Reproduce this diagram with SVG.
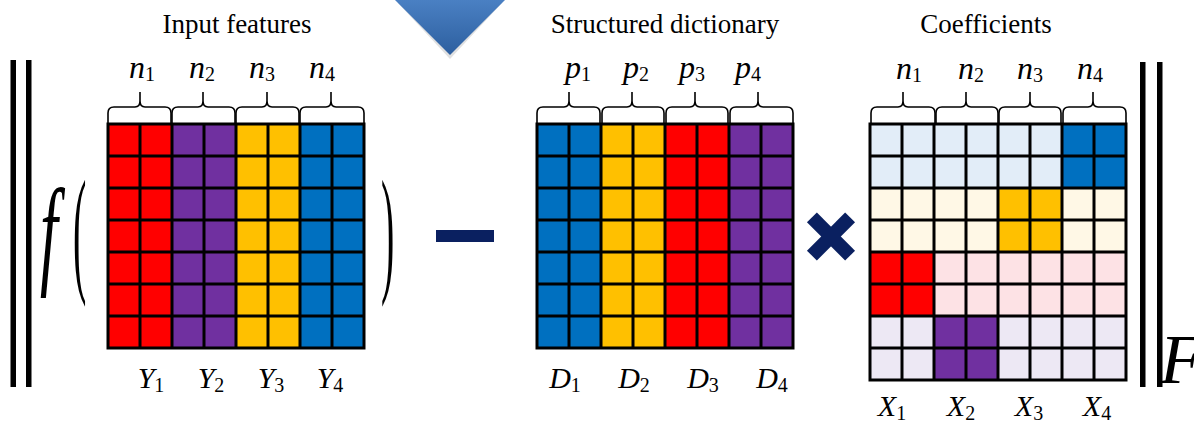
<svg xmlns="http://www.w3.org/2000/svg" width="1194" height="423" viewBox="0 0 1194 423">
<defs>
<linearGradient id="ag" x1="0" y1="0" x2="0" y2="1">
<stop offset="0" stop-color="#4a80c3"/>
<stop offset="1" stop-color="#2d5f9f"/>
</linearGradient>
</defs>
<rect width="1194" height="423" fill="#fff"/>
<text font-family="Liberation Serif" font-size="27" text-anchor="middle" x="237" y="33">Input features</text>
<text font-family="Liberation Serif" font-size="27" text-anchor="middle" x="665" y="33">Structured dictionary</text>
<text font-family="Liberation Serif" font-size="27" text-anchor="middle" x="986" y="33">Coefficients</text>

<g id="arrow">
<polygon points="398,3 502,3 450,59" fill="#000" opacity="0.12"/>
<polygon points="395,0 505,0 450,55" fill="url(#ag)"/>
</g>

<g id="norm-left" fill="#000">
<rect x="10.5" y="60" width="5.5" height="327"/>
<rect x="26" y="60" width="5.5" height="327"/>
<text font-family="Liberation Serif" font-style="italic" font-size="64" transform="scale(1,1.9)" x="40" y="143">f</text>
<text font-family="Liberation Serif" font-size="40" transform="scale(1,3.49)" x="73" y="79.5">(</text>
<text font-family="Liberation Serif" font-size="40" transform="scale(1,3.49)" x="381" y="79.5">)</text>
</g>

<g id="input-features">
<g font-family="Liberation Serif" font-style="italic" font-size="32" text-anchor="middle">
<text x="142" y="78">n<tspan font-style="normal" font-size="20" dy="3">1</tspan></text>
<text x="202" y="78">n<tspan font-style="normal" font-size="20" dy="3">2</tspan></text>
<text x="262" y="78">n<tspan font-style="normal" font-size="20" dy="3">3</tspan></text>
<text x="322" y="78">n<tspan font-style="normal" font-size="20" dy="3">4</tspan></text>
</g>
<g fill="none" stroke="#000" stroke-width="1.6" stroke-linejoin="round">
<path d="M108,123V113Q108,107 114,107H135Q140,107 140,101V92M140,101Q140,107 145,107H165Q171,107 171,113V123"/>
<path d="M172,123V113Q172,107 178,107H198Q203,107 203,101V92M203,101Q203,107 208,107H229Q235,107 235,113V123"/>
<path d="M236,123V113Q236,107 242,107H262Q267,107 267,101V92M267,101Q267,107 272,107H293Q299,107 299,113V123"/>
<path d="M300,123V113Q300,107 306,107H326Q331,107 331,101V92M331,101Q331,107 336,107H358Q364,107 364,113V123"/>
</g>
<rect fill="#ff0000" x="108" y="124" width="64" height="224"/>
<rect fill="#7030a0" x="172" y="124" width="64" height="224"/>
<rect fill="#ffc000" x="236" y="124" width="64" height="224"/>
<rect fill="#0070c0" x="300" y="124" width="64" height="224"/>
<path fill="none" stroke="#000" stroke-width="3" stroke-linecap="square" d="M108,124V348M140,124V348M172,124V348M204,124V348M236,124V348M268,124V348M300,124V348M332,124V348M364,124V348M108,124H364M108,156H364M108,188H364M108,220H364M108,252H364M108,284H364M108,316H364M108,348H364"/>
<g font-family="Liberation Serif" font-style="italic" font-size="30" text-anchor="middle">
<text x="151" y="388">Y<tspan font-style="normal" font-size="20" dy="4">1</tspan></text>
<text x="211" y="388">Y<tspan font-style="normal" font-size="20" dy="4">2</tspan></text>
<text x="271" y="388">Y<tspan font-style="normal" font-size="20" dy="4">3</tspan></text>
<text x="330" y="388">Y<tspan font-style="normal" font-size="20" dy="4">4</tspan></text>
</g>
</g>

<g id="minus">
<rect fill="#0a2060" x="436" y="230" width="58" height="12"/>
</g>

<g id="structured-dictionary">
<g font-family="Liberation Serif" font-style="italic" font-size="32" text-anchor="middle">
<text x="578" y="78">p<tspan font-style="normal" font-size="20" dy="3">1</tspan></text>
<text x="636" y="78">p<tspan font-style="normal" font-size="20" dy="3">2</tspan></text>
<text x="692" y="78">p<tspan font-style="normal" font-size="20" dy="3">3</tspan></text>
<text x="748" y="78">p<tspan font-style="normal" font-size="20" dy="3">4</tspan></text>
</g>
<g fill="none" stroke="#000" stroke-width="1.6" stroke-linejoin="round">
<path d="M537,123V113Q537,107 543,107H564Q569,107 569,101V92M569,101Q569,107 574,107H594Q600,107 600,113V123"/>
<path d="M602,123V113Q602,107 608,107H627Q632,107 632,101V92M632,101Q632,107 637,107H658Q664,107 664,113V123"/>
<path d="M666,123V113Q666,107 672,107H690Q695,107 695,101V92M695,101Q695,107 700,107H722Q728,107 728,113V123"/>
<path d="M730,123V113Q730,107 736,107H753Q758,107 758,101V92M758,101Q758,107 763,107H787Q793,107 793,113V123"/>
</g>
<rect fill="#0070c0" x="537" y="124" width="64" height="224"/>
<rect fill="#ffc000" x="601" y="124" width="64" height="224"/>
<rect fill="#ff0000" x="665" y="124" width="64" height="224"/>
<rect fill="#7030a0" x="729" y="124" width="64" height="224"/>
<path fill="none" stroke="#000" stroke-width="3" stroke-linecap="square" d="M537,124V348M569,124V348M601,124V348M633,124V348M665,124V348M697,124V348M729,124V348M761,124V348M793,124V348M537,124H793M537,156H793M537,188H793M537,220H793M537,252H793M537,284H793M537,316H793M537,348H793"/>
<g font-family="Liberation Serif" font-style="italic" font-size="30" text-anchor="middle">
<text x="565" y="388">D<tspan font-style="normal" font-size="20" dy="4">1</tspan></text>
<text x="634" y="388">D<tspan font-style="normal" font-size="20" dy="4">2</tspan></text>
<text x="703" y="388">D<tspan font-style="normal" font-size="20" dy="4">3</tspan></text>
<text x="772" y="388">D<tspan font-style="normal" font-size="20" dy="4">4</tspan></text>
</g>
</g>

<g id="times" fill="#0a2060">
<rect x="804" y="229.5" width="54" height="14" transform="rotate(45 831 236.5)"/>
<rect x="804" y="229.5" width="54" height="14" transform="rotate(-45 831 236.5)"/>
</g>

<g id="coefficients">
<g font-family="Liberation Serif" font-style="italic" font-size="32" text-anchor="middle">
<text x="909" y="79">n<tspan font-style="normal" font-size="20" dy="3">1</tspan></text>
<text x="971" y="79">n<tspan font-style="normal" font-size="20" dy="3">2</tspan></text>
<text x="1030" y="79">n<tspan font-style="normal" font-size="20" dy="3">3</tspan></text>
<text x="1090" y="79">n<tspan font-style="normal" font-size="20" dy="3">4</tspan></text>
</g>
<g fill="none" stroke="#000" stroke-width="1.6" stroke-linejoin="round">
<path d="M871,123V113Q871,107 877,107H898Q903,107 903,101V92M903,101Q903,107 908,107H929Q935,107 935,113V123"/>
<path d="M936,123V113Q936,107 942,107H961Q966,107 966,101V92M966,101Q966,107 971,107H992Q998,107 998,113V123"/>
<path d="M999,123V113Q999,107 1005,107H1025Q1030,107 1030,101V92M1030,101Q1030,107 1035,107H1055Q1061,107 1061,113V123"/>
<path d="M1063,123V113Q1063,107 1069,107H1088Q1093,107 1093,101V92M1093,101Q1093,107 1098,107H1120Q1126,107 1126,113V123"/>
</g>
<rect fill="#e2edf8" x="870" y="124" width="256" height="64"/>
<rect fill="#0070c0" x="1062" y="124" width="64" height="64"/>
<rect fill="#fff8e6" x="870" y="188" width="256" height="64"/>
<rect fill="#ffc000" x="998" y="188" width="64" height="64"/>
<rect fill="#fde2e5" x="870" y="252" width="256" height="64"/>
<rect fill="#ff0000" x="870" y="252" width="64" height="64"/>
<rect fill="#ede8f4" x="870" y="316" width="256" height="64"/>
<rect fill="#7030a0" x="934" y="316" width="64" height="64"/>
<path fill="none" stroke="#000" stroke-width="3" stroke-linecap="square" d="M870,124V380M902,124V380M934,124V380M966,124V380M998,124V380M1030,124V380M1062,124V380M1094,124V380M1126,124V380M870,124H1126M870,156H1126M870,188H1126M870,220H1126M870,252H1126M870,284H1126M870,316H1126M870,348H1126M870,380H1126"/>
<g font-family="Liberation Serif" font-style="italic" font-size="30" text-anchor="middle">
<text x="892" y="416">X<tspan font-style="normal" font-size="20" dy="4">1</tspan></text>
<text x="961" y="416">X<tspan font-style="normal" font-size="20" dy="4">2</tspan></text>
<text x="1029" y="416">X<tspan font-style="normal" font-size="20" dy="4">3</tspan></text>
<text x="1097" y="416">X<tspan font-style="normal" font-size="20" dy="4">4</tspan></text>
</g>
</g>

<g id="norm-right" fill="#000">
<rect x="1140" y="62" width="5.5" height="325"/>
<rect x="1157" y="62" width="5.5" height="325"/>
<text font-family="Liberation Serif" font-style="italic" font-size="70" x="1160" y="383">F</text>
</g>
</svg>
